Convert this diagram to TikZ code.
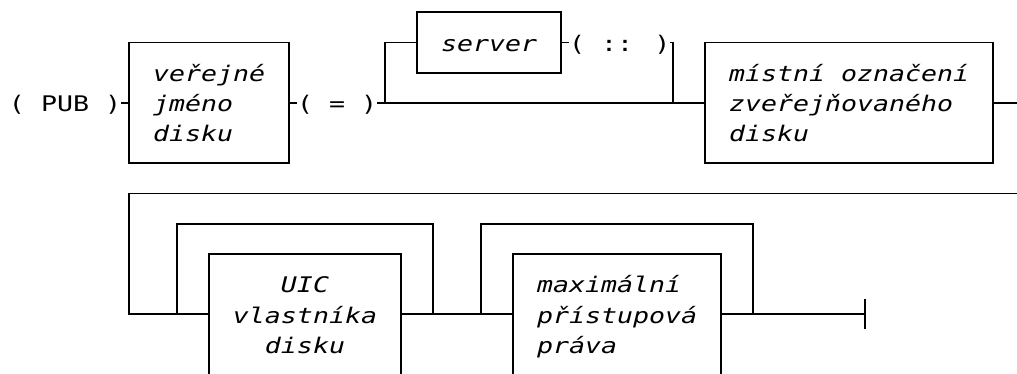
\documentclass[tikz,border=0pt]{standalone}
\usepackage{fontspec}
\newfontfamily\mono[FakeStretch=1.237,ItalicFont={DejaVu Sans Mono Oblique},ItalicFeatures={FakeStretch=1.237}]{DejaVu Sans Mono}
\tikzset{
  ln/.style={line width=1.8pt},
  boxst/.style={draw, line width=1.8pt, inner sep=0pt, outer sep=0pt, minimum width=#1},
  txt/.style={inner sep=0pt, outer sep=0pt, anchor=base west, font=\mono\fontsize{21.5}{30.2}\selectfont},
  itx/.style={txt, font=\mono\fontsize{21.5}{30.2}\selectfont\itshape},
  ctx/.style={itx, anchor=base}
}
\begin{document}
\begin{tikzpicture}[x=1pt,y=-1pt]
\useasboundingbox (0,0) rectangle (1017,373);
\begin{scope}
\clip (0,0) rectangle (1017,373);
% boxes
\node[boxst=160, minimum height=120.8] (box1) at (209,102.9) {};
\node[boxst=144, minimum height=60.4] (srv) at (489,42.5) {};
\node[boxst=288, minimum height=120.8] (box3) at (849,102.9) {};
\node[boxst=192, minimum height=120.8] (uic) at (305,314.3) {};
\node[boxst=208, minimum height=120.8] (maxp) at (617,314.3) {};
% terminals
\node[txt] (pub) at (9,111.6) {( PUB )};
\node[txt] (eq) at (297,111.6) {( = )};
\node[txt] (dc) at (569,51.2) {( :: )};
% box texts
\node[itx] (t1a) at (153,81.4) {veřejné};
\node[itx] (t1b) at (153,111.6) {jméno};
\node[itx] (t1c) at (153,141.8) {disku};
\node[itx] (ts) at (441,51.2) {server};
\node[itx] (t3a) at (729,81.4) {místní označení};
\node[itx] (t3b) at (729,111.6) {zveřejňovaného};
\node[itx] (t3c) at (729,141.8) {disku};
\node[ctx] (t4a) at (305,292.8) {UIC};
\node[ctx] (t4b) at (305,323.0) {vlastníka};
\node[ctx] (t4c) at (305,353.2) {disku};
\node[itx] (t5a) at (537,292.8) {maximální};
\node[itx] (t5b) at (537,323.0) {přístupová};
\node[itx] (t5c) at (537,353.2) {práva};
% coordinates
\coordinate (j1) at (385,102.9);
\coordinate (j2) at (673,102.9);
\coordinate (e1) at (1017,102.9);
\coordinate (e2) at (1017,193.5);
\coordinate (k0) at (129,314.3);
\coordinate (la) at (177,314.3);
\coordinate (lat) at (177,223.7);
\coordinate (lbt) at (433,223.7);
\coordinate (lb) at (433,314.3);
\coordinate (ma) at (481,314.3);
\coordinate (mat) at (481,223.7);
\coordinate (mbt) at (753,223.7);
\coordinate (mb) at (753,314.3);
\coordinate (endb) at (865,314.3);
\coordinate (endt) at (865,299.2);
\coordinate (endd) at (865,329.4);
% connectors
\draw[ln] (pub.east |- box1.west) -- (box1.west);
\draw[ln] (box1.east) -- (eq.west |- box1.east);
\draw[ln] (eq.east |- box1.east) -- (box3.west);
\draw[ln] (srv.west) -| (j1);
\draw[ln] (srv.east) -- (dc.west |- srv.east);
\draw[ln] (dc.east |- srv.east) -| (j2);
\draw[ln] (box3.east) -- (e1);
\draw[ln] (e2) -| (k0) -- (uic.west);
\draw[ln] (la) -- (lat) -- (lbt) -- (lb);
\draw[ln] (uic.east) -- (maxp.west);
\draw[ln] (ma) -- (mat) -- (mbt) -- (mb);
\draw[ln] (maxp.east) -- (endb);
\draw[line width=2.2pt] (endt) -- (endd);
\end{scope}
\end{tikzpicture}
\end{document}
